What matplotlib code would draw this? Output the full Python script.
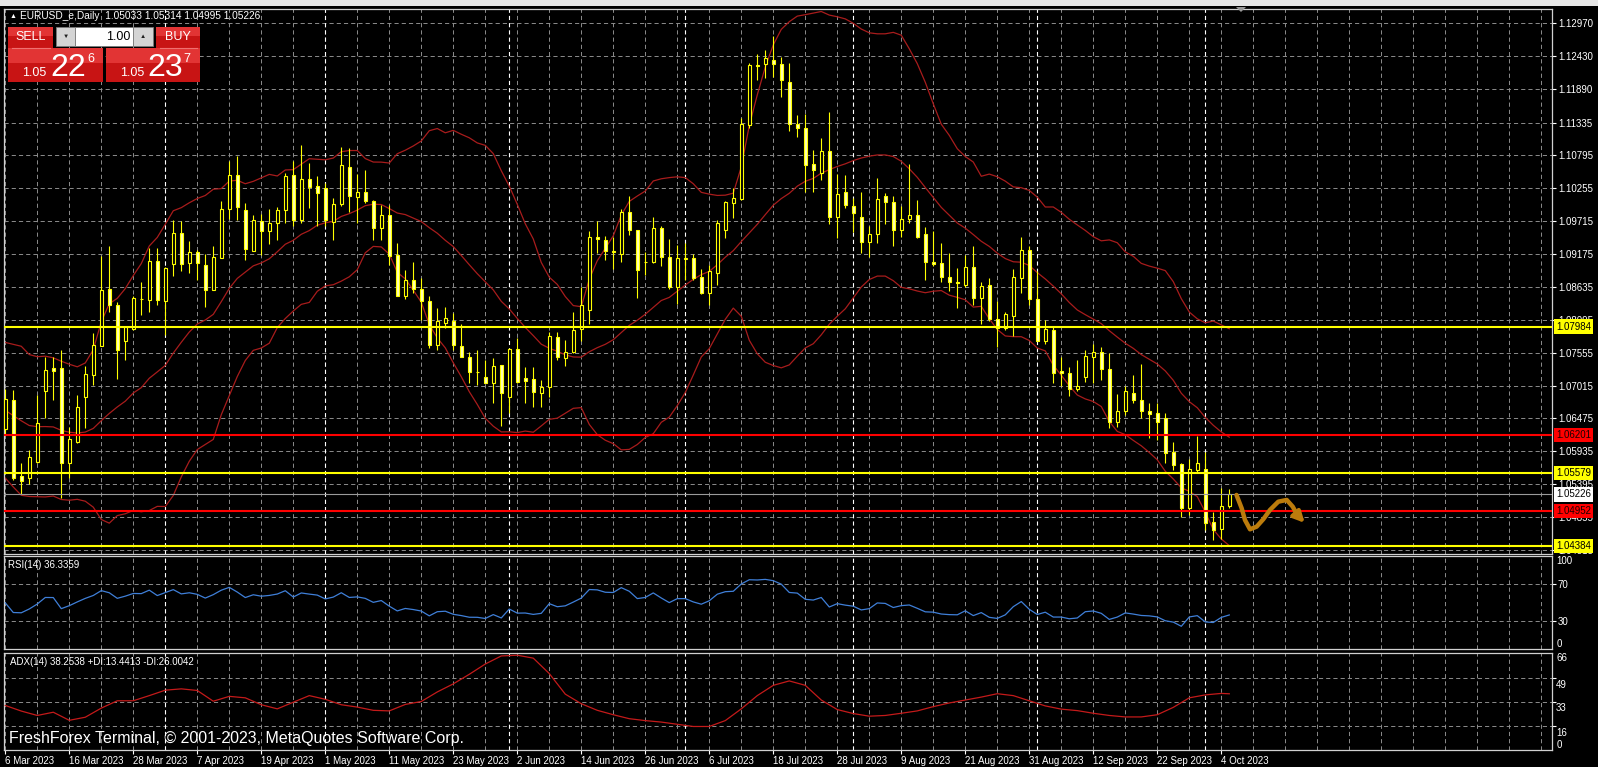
import numpy as np
import matplotlib
matplotlib.use("Agg")
import matplotlib.pyplot as plt
from matplotlib.patches import Rectangle, Polygon

plt.rcParams['font.family'] = ['Liberation Sans', 'DejaVu Sans']
plt.rcParams['lines.scale_dashes'] = False

# ---- data (EURUSD_e daily, 6 Mar 2023 .. 5 Oct 2023) ----
open_p = [1.0630, 1.0678, 1.0553, 1.0550, 1.0576, 1.0692, 1.0731, 1.0731, 1.0575, 1.0609,
          1.0682, 1.0719, 1.0767, 1.0860, 1.0834, 1.0774, 1.0795, 1.0844, 1.0842, 1.0906,
          1.0840, 1.0901, 1.0952, 1.0903, 1.0921, 1.0900, 1.0859, 1.0911, 1.0991, 1.1048,
          1.0990, 1.0923, 1.0972, 1.0956, 1.0968, 1.0990, 1.1048, 1.0973, 1.1040, 1.1029,
          1.1026, 1.0970, 1.0999, 1.1060, 1.1011, 1.1020, 1.1005, 1.0960, 1.0982, 1.0916,
          1.0849, 1.0875, 1.0860, 1.0841, 1.0768, 1.0804, 1.0808, 1.0767, 1.0749, 1.0724,
          1.0715, 1.0706, 1.0735, 1.0683, 1.0761, 1.0714, 1.0713, 1.0690, 1.0699, 1.0781,
          1.0746, 1.0757, 1.0794, 1.0825, 1.0945, 1.0940, 1.0922, 1.0917, 1.0986, 1.0957,
          1.0905, 1.0905, 1.0961, 1.0912, 1.0864, 1.0909, 1.0911, 1.0879, 1.0854, 1.0886,
          1.0957, 1.1001, 1.1008, 1.1130, 1.1228, 1.1230, 1.1237, 1.1230, 1.1200, 1.1131,
          1.1124, 1.1066, 1.1050, 1.1087, 1.0978, 1.1020, 1.0997, 1.0979, 1.0938, 1.0950,
          1.1012, 1.1003, 1.0957, 1.0975, 1.0981, 1.0950, 1.0904, 1.0903, 1.0879, 1.0871,
          1.0866, 1.0896, 1.0845, 1.0867, 1.0810, 1.0796, 1.0815, 1.0878, 1.0924, 1.0843,
          1.0775, 1.0793, 1.0726, 1.0722, 1.0696, 1.0715, 1.0749, 1.0756, 1.0728, 1.0642,
          1.0660, 1.0690, 1.0678, 1.0659, 1.0657, 1.0648, 1.0593, 1.0572, 1.0501, 1.0563,
          1.0564, 1.0478, 1.0465, 1.05033]
high_p = [1.0695, 1.0694, 1.0574, 1.0596, 1.0686, 1.0749, 1.0749, 1.0760, 1.0634, 1.0686,
          1.0733, 1.0788, 1.0914, 1.0931, 1.0838, 1.0799, 1.0848, 1.0871, 1.0927, 1.0927,
          1.0896, 1.0974, 1.0971, 1.0939, 1.0924, 1.0918, 1.0930, 1.1004, 1.1070, 1.1078,
          1.1001, 1.0982, 1.0983, 1.0991, 1.0995, 1.1050, 1.1070, 1.1097, 1.1067, 1.1046,
          1.1034, 1.1009, 1.1094, 1.1092, 1.1049, 1.1056, 1.1006, 1.0998, 1.0998, 1.0935,
          1.0892, 1.0905, 1.0878, 1.0849, 1.0829, 1.0831, 1.0820, 1.0803, 1.0757, 1.0760,
          1.0743, 1.0746, 1.0735, 1.0763, 1.0779, 1.0732, 1.0732, 1.0711, 1.0790, 1.0790,
          1.0776, 1.0823, 1.0864, 1.0955, 1.0971, 1.0947, 1.0945, 1.0991, 1.1012, 1.0957,
          1.0920, 1.0978, 1.0964, 1.0942, 1.0933, 1.0936, 1.0918, 1.0893, 1.0900, 1.0974,
          1.1004, 1.1026, 1.1141, 1.1231, 1.1246, 1.1252, 1.1276, 1.1241, 1.1231, 1.1146,
          1.1148, 1.1089, 1.1108, 1.1150, 1.1049, 1.1048, 1.1009, 1.1020, 1.0964, 1.1042,
          1.1018, 1.1012, 1.0996, 1.1066, 1.1007, 1.0962, 1.0955, 1.0935, 1.0919, 1.0894,
          1.0916, 1.0931, 1.0871, 1.0878, 1.0841, 1.0823, 1.0893, 1.0946, 1.0931, 1.0889,
          1.0809, 1.0798, 1.0749, 1.0732, 1.0744, 1.0760, 1.0770, 1.0765, 1.0755, 1.0688,
          1.0700, 1.0719, 1.0737, 1.0673, 1.0672, 1.0656, 1.0609, 1.0575, 1.0580, 1.0618,
          1.0593, 1.0493, 1.0533, 1.05314]
low_p = [1.0620, 1.0546, 1.0524, 1.0539, 1.0574, 1.0648, 1.0678, 1.0516, 1.0549, 1.0607,
         1.0631, 1.0702, 1.0766, 1.0823, 1.0713, 1.0743, 1.0793, 1.0818, 1.0823, 1.0834,
         1.0785, 1.0882, 1.0890, 1.0886, 1.0875, 1.0831, 1.0859, 1.0911, 1.0975, 1.0974,
         1.0908, 1.0922, 1.0916, 1.0934, 1.0940, 1.0968, 1.0964, 1.0968, 1.0993, 1.0963,
         1.0963, 1.0941, 1.0997, 1.0986, 1.0968, 1.1001, 1.0941, 1.0941, 1.0900, 1.0848,
         1.0844, 1.0853, 1.0809, 1.0763, 1.0760, 1.0796, 1.0760, 1.0748, 1.0705, 1.0703,
         1.0705, 1.0672, 1.0635, 1.0657, 1.0705, 1.0672, 1.0667, 1.0667, 1.0683, 1.0744,
         1.0733, 1.0755, 1.0774, 1.0803, 1.0919, 1.0908, 1.0893, 1.0905, 1.0949, 1.0845,
         1.0883, 1.0902, 1.0897, 1.0860, 1.0836, 1.0875, 1.0875, 1.0852, 1.0834, 1.0867,
         1.0944, 1.0976, 1.1007, 1.1124, 1.1204, 1.1207, 1.1209, 1.1175, 1.1119, 1.1110,
         1.1020, 1.1020, 1.1039, 1.0967, 1.0944, 1.0993, 1.0953, 1.0919, 1.0913, 1.0936,
         1.0967, 1.0930, 1.0946, 1.0968, 1.0944, 1.0875, 1.0897, 1.0871, 1.0856, 1.0829,
         1.0864, 1.0834, 1.0803, 1.0807, 1.0765, 1.0793, 1.0782, 1.0853, 1.0834, 1.0774,
         1.0770, 1.0705, 1.0700, 1.0684, 1.0693, 1.0708, 1.0705, 1.0711, 1.0631, 1.0634,
         1.0653, 1.0673, 1.0648, 1.0615, 1.0612, 1.0575, 1.0563, 1.0486, 1.0489, 1.0557,
         1.0464, 1.0448, 1.0449, 1.04995]
close_p = [1.0680, 1.0549, 1.0545, 1.0584, 1.0640, 1.0727, 1.0726, 1.0574, 1.0613, 1.0666,
           1.0720, 1.0768, 1.0859, 1.0833, 1.0760, 1.0797, 1.0845, 1.0843, 1.0906, 1.0842,
           1.0894, 1.0952, 1.0901, 1.0921, 1.0903, 1.0859, 1.0912, 1.0991, 1.1048, 1.0995,
           1.0926, 1.0974, 1.0956, 1.0968, 1.0990, 1.1045, 1.0974, 1.1041, 1.1028, 1.1017,
           1.0974, 1.0999, 1.1064, 1.1012, 1.1020, 1.1004, 1.0960, 1.0981, 1.0915, 1.0849,
           1.0875, 1.0860, 1.0840, 1.0768, 1.0807, 1.0812, 1.0768, 1.0749, 1.0724, 1.0723,
           1.0706, 1.0734, 1.0689, 1.0761, 1.0708, 1.0709, 1.0691, 1.0699, 1.0782, 1.0749,
           1.0757, 1.0792, 1.0833, 1.0945, 1.0942, 1.0922, 1.0920, 1.0986, 1.0957, 1.0891,
           1.0904, 1.0961, 1.0913, 1.0864, 1.0911, 1.0911, 1.0878, 1.0854, 1.0889, 1.0968,
           1.1003, 1.1009, 1.1131, 1.1228, 1.1226, 1.1240, 1.1230, 1.1203, 1.1131, 1.1125,
           1.1064, 1.1056, 1.1086, 1.0978, 1.1016, 1.0998, 1.0985, 1.0938, 1.0950, 1.1008,
           1.1003, 1.0957, 1.0975, 1.0981, 1.0946, 1.0905, 1.0901, 1.0879, 1.0872, 1.0870,
           1.0896, 1.0845, 1.0865, 1.0810, 1.0796, 1.0819, 1.0879, 1.0924, 1.0843, 1.0774,
           1.0794, 1.0722, 1.0722, 1.0695, 1.0701, 1.0750, 1.0756, 1.0728, 1.0642, 1.0660,
           1.0693, 1.0678, 1.0660, 1.0655, 1.0642, 1.0591, 1.0571, 1.0500, 1.0565, 1.0575,
           1.0475, 1.0464, 1.0503, 1.05226]
# closes of the 20 sessions before the first visible bar (band / RSI warm-up)
warmup_close = [1.0727, 1.0727, 1.0713, 1.0740, 1.0678, 1.0723, 1.0738, 1.0687, 1.0674, 1.0694,
                1.0687, 1.0648, 1.0605, 1.0595, 1.0547, 1.0607, 1.0576, 1.0668, 1.0597, 1.0633]

# ADX(14) main line, one value every second bar + last bar
adx_bar = list(range(0, 153, 2)) + [153]
adx_val = [30.3, 26.5, 23.5, 25.7, 20.2, 22.3, 28.5, 33.5, 33.5, 37.0,
           40.7, 41.6, 40.5, 33.2, 36.5, 35.5, 30.8, 28.0, 32.5, 37.0,
           34.5, 30.8, 29.2, 27.0, 26.6, 31.0, 33.0, 39.5, 45.0, 51.5,
           58.5, 64.0, 64.5, 62.5, 52.0, 38.0, 31.5, 27.0, 24.0, 21.3,
           20.0, 19.0, 17.5, 16.0, 16.0, 20.0, 28.0, 37.0, 44.0, 47.0,
           44.0, 34.0, 27.5, 24.8, 23.0, 23.5, 25.0, 26.6, 29.5, 32.0,
           34.0, 36.0, 38.3, 37.0, 33.5, 30.0, 27.8, 26.8, 25.0, 23.5,
           22.5, 22.5, 24.0, 29.0, 35.5, 37.5, 38.5, 38.25]

price_ticks = [1.12970, 1.12430, 1.11890, 1.11335, 1.10795, 1.10255, 1.09715, 1.09175,
               1.08635, 1.08095, 1.07555, 1.07015, 1.06475, 1.05935, 1.05395, 1.04855, 1.04315]
yellow_levels = [1.07984, 1.05579, 1.04384]
red_levels = [1.06201, 1.04952]
bid_price = 1.05226
date_bars = list(range(0, 153, 8))
date_labels = ['6 Mar 2023', '16 Mar 2023', '28 Mar 2023', '7 Apr 2023', '19 Apr 2023',
               '1 May 2023', '11 May 2023', '23 May 2023', '2 Jun 2023', '14 Jun 2023',
               '26 Jun 2023', '6 Jul 2023', '18 Jul 2023', '28 Jul 2023', '9 Aug 2023',
               '21 Aug 2023', '31 Aug 2023', '12 Sep 2023', '22 Sep 2023', '4 Oct 2023']
month_start_bars = [20, 40, 63, 85, 106, 129, 150]
# hand drawn forecast squiggle (bar, price)
squiggle_x = [153.9, 154.55, 154.96, 155.59, 156.42, 157.25, 158.09, 159.13, 160.18, 160.93, 161.5]
squiggle_y = [1.05217, 1.04998, 1.04806, 1.04653, 1.04696, 1.04818, 1.04971, 1.05107, 1.05135, 1.05025, 1.04889]
squiggle_tip = (162.67, 1.04724)

YEL = '#FFFF00'
BEAR_FILL = '#FFFFB8'
BAND = '#A81C1C'
GRID = '#8C8C8C'
DASH = (0, (3.0, 2.2))

W, H = 1598, 767
fig = plt.figure(figsize=(W / 100, H / 100), dpi=100, facecolor='black')


def px_axes(x0, y0, x1, y1):
    a = fig.add_axes([x0 / W, 1 - y1 / H, (x1 - x0) / W, (y1 - y0) / H])
    a.set_facecolor('black')
    for s in a.spines.values():
        s.set_color('#D0D0D0')
        s.set_linewidth(0.9)
    a.set_xlim(-0.16, 193.34)
    return a


ax = px_axes(4, 9, 1552, 554)
ax_rsi = px_axes(4, 556, 1552, 649)
ax_adx = px_axes(4, 653, 1552, 750)

o = np.array(open_p)
h = np.array(high_p)
l = np.array(low_p)
c = np.array(close_p)
x = np.arange(len(c))

# grid + period separators in every window
grid_x = np.arange(0, 194, 4)
for a in (ax, ax_rsi, ax_adx):
    a.vlines(grid_x, 0, 1, transform=a.get_xaxis_transform(), colors=GRID,
             linestyles=DASH, linewidth=0.7, zorder=1)
    a.vlines(month_start_bars, 0, 1, transform=a.get_xaxis_transform(), colors='white',
             linestyles=DASH, linewidth=0.8, zorder=1.5)

# ---- main window ----
ax.set_ylim(1.04247, 1.13200)
ax.hlines(price_ticks, 0, 1, transform=ax.get_yaxis_transform(), colors=GRID,
          linestyles=DASH, linewidth=0.7, zorder=1)

# Bollinger bands (20, 2)
allc = np.array(warmup_close + close_p)
nw = len(warmup_close)
n = 20
mid = np.array([allc[i - n + 1:i + 1].mean() for i in range(nw, len(allc))])
sd = np.array([allc[i - n + 1:i + 1].std() for i in range(nw, len(allc))])
for band in (mid, mid + 2 * sd, mid - 2 * sd):
    ax.plot(x, band, color=BAND, linewidth=0.9, zorder=2)

# candles
up = c >= o
lo = np.minimum(o, c)
bh = np.abs(c - o)
ax.vlines(x, l, h, colors=YEL, linewidth=0.8, zorder=3)
ax.bar(x[up], bh[up], bottom=lo[up], width=0.42, facecolor='black', edgecolor=YEL,
       linewidth=0.8, zorder=4)
ax.bar(x[~up], bh[~up], bottom=lo[~up], width=0.42, facecolor=BEAR_FILL, edgecolor=YEL,
       linewidth=0.8, zorder=4)

# levels
ax.axhline(bid_price, color='#9A9A9A', linewidth=0.8, zorder=5)
for lv in yellow_levels:
    ax.axhline(lv, color=YEL, linewidth=1.5, zorder=6)
for lv in red_levels:
    ax.axhline(lv, color='#FF0000', linewidth=1.5, zorder=6)

# hand drawn arrow
ax.plot(squiggle_x, squiggle_y, color='#BC7C0C', linewidth=3.2, solid_capstyle='round',
        solid_joinstyle='round', zorder=7)
ax.annotate('', xy=squiggle_tip, xytext=(squiggle_x[-1], squiggle_y[-1]),
            arrowprops=dict(arrowstyle='-|>', color='#BC7C0C', lw=3, mutation_scale=16),
            zorder=7)

ax.yaxis.tick_right()
ax.set_yticks(price_ticks)
ax.set_yticklabels([f'{v:.5f}' for v in price_ticks])
ax.set_xticks([])
ax.tick_params(axis='y', colors='white', labelsize=7, length=2.9, width=0.8, pad=1.4)

label_boxes = [(v, YEL, 'black') for v in yellow_levels] + \
              [(v, '#FF0000', '#1A0000') for v in red_levels] + [(bid_price, 'white', 'black')]
for v, bg, fg in label_boxes:
    ax.text(1.0027, v, f'{v:.5f}', transform=ax.get_yaxis_transform(), ha='left', va='center',
            fontsize=7, color=fg, clip_on=False, zorder=10,
            bbox=dict(boxstyle='square,pad=0.22', fc=bg, ec='none'))

# ---- RSI ----
d = np.diff(allc)
gain = np.clip(d, 0, None)
loss = np.clip(-d, 0, None)
ag, al = gain[:14].mean(), loss[:14].mean()
rsi_all = np.full(len(allc), np.nan)
for i in range(14, len(d)):
    ag = (ag * 13 + gain[i]) / 14
    al = (al * 13 + loss[i]) / 14
    rsi_all[i + 1] = 100 - 100 / (1 + ag / al)
rsi = rsi_all[nw:]
ax_rsi.set_ylim(0, 100)
ax_rsi.hlines([70, 30], 0, 1, transform=ax_rsi.get_yaxis_transform(), colors=GRID,
              linestyles=DASH, linewidth=0.7, zorder=1)
ax_rsi.plot(x, rsi, color='#3F7FD8', linewidth=0.9, zorder=3)
ax_rsi.yaxis.tick_right()
ax_rsi.set_yticks([70, 30])
ax_rsi.set_yticklabels(['70', '30'])
ax_rsi.set_xticks([])
ax_rsi.tick_params(axis='y', colors='white', labelsize=7, length=2.9, width=0.8, pad=1.4)
ax_rsi.text(1.0027, 100, '100', transform=ax_rsi.get_yaxis_transform(), ha='left', va='top',
            fontsize=7, color='white', clip_on=False)
ax_rsi.text(1.0027, 0, '0', transform=ax_rsi.get_yaxis_transform(), ha='left', va='bottom',
            fontsize=7, color='white', clip_on=False)

# ---- ADX ----
ax_adx.set_ylim(0, 66)
ax_adx.hlines([49, 33, 16], 0, 1, transform=ax_adx.get_yaxis_transform(), colors=GRID,
              linestyles=DASH, linewidth=0.7, zorder=1)
ax_adx.plot(adx_bar, adx_val, color='#C41A1A', linewidth=0.9, zorder=3)
ax_adx.yaxis.tick_right()
ax_adx.set_yticks([49, 33, 16])
ax_adx.set_yticklabels([])
ax_adx.tick_params(axis='y', colors='white', length=2.9, width=0.8)
for v, va in [(66, 'top'), (49, 'top'), (33, 'top'), (16, 'top'), (0, 'bottom')]:
    ax_adx.text(1.0027, v - (1.2 if v not in (66, 0) else 0), str(v),
                transform=ax_adx.get_yaxis_transform(), ha='left', va=va,
                fontsize=7, color='white', clip_on=False)
ax_adx.set_xticks(date_bars)
ax_adx.set_xticklabels(date_labels)
ax_adx.tick_params(axis='x', colors='white', labelsize=7, length=2.9, width=0.8, pad=1.5)
for t in ax_adx.get_xticklabels():
    t.set_ha('left')

# ---- overlay: terminal widgets and texts (pixel coordinates) ----
ov = fig.add_axes([0, 0, 1, 1], zorder=20)
ov.set_xlim(0, W)
ov.set_ylim(H, 0)
ov.axis('off')
ov.add_patch(Rectangle((0, 0), W, 6, color='#E6E6E6', lw=0))
ov.add_patch(Polygon([(1236, 7), (1246, 7), (1241, 12)], closed=True, color='#9A9A9A', lw=0))

ov.text(10, 16, '\u25b2', fontsize=5, color='white', va='center', ha='left')
ov.text(20, 16, 'EURUSD_e,Daily  1.05033 1.05314 1.04995 1.05226', fontsize=7.3,
        color='white', va='center', ha='left')


def red_block(x0, y0, x1, y1):
    ov.add_patch(Rectangle((x0, y0), x1 - x0, y1 - y0, color='#C81414', lw=0))
    ov.add_patch(Rectangle((x0, y0), x1 - x0, (y1 - y0) * 0.45, color='#E23434', lw=0))


red_block(8, 27, 53, 48)
red_block(156, 27, 200, 48)
red_block(8, 48, 103, 82)
red_block(106, 48, 200, 82)
ov.plot([12, 50], [47.5, 47.5], color='#F07070', lw=0.8)
ov.plot([160, 197], [47.5, 47.5], color='#F07070', lw=0.8)
ov.add_patch(Rectangle((56, 27), 19, 19, fc='#D4D4D4', ec='#7A7A7A', lw=0.6))
ov.add_patch(Rectangle((75, 27), 58, 19, fc='white', ec='#7A7A7A', lw=0.6))
ov.add_patch(Rectangle((133, 27), 20, 19, fc='#D4D4D4', ec='#7A7A7A', lw=0.6))
ov.text(65.5, 36.5, '\u25bc', fontsize=4.5, color='#202020', ha='center', va='center')
ov.text(143, 36.5, '\u25b2', fontsize=4.5, color='#202020', ha='center', va='center')
ov.text(130, 36.5, '1.00', fontsize=9, color='black', ha='right', va='center')
ov.text(30.5, 37, 'SELL', fontsize=9, color='white', ha='center', va='center')
ov.text(178, 37, 'BUY', fontsize=9, color='white', ha='center', va='center')
ov.text(22, 76, '1.05', fontsize=9, color='white', ha='left', va='baseline')
ov.text(50, 76, '22', fontsize=23, color='white', ha='left', va='baseline')
ov.text(87, 61.5, '6', fontsize=9, color='white', ha='left', va='baseline')
ov.text(120, 76, '1.05', fontsize=9, color='white', ha='left', va='baseline')
ov.text(147, 76, '23', fontsize=23, color='white', ha='left', va='baseline')
ov.text(183, 61.5, '7', fontsize=9, color='white', ha='left', va='baseline')

ov.text(8, 565, 'RSI(14) 36.3359', fontsize=7, color='white', ha='left', va='center')
ov.text(10, 662, 'ADX(14) 38.2538 +DI:13.4413 -DI:26.0042', fontsize=7, color='white',
        ha='left', va='center')
ov.text(9, 742.5, 'FreshForex Terminal, \u00a9 2001-2023, MetaQuotes Software Corp.',
        fontsize=11.5, color='white', ha='left', va='baseline')

fig.savefig('out.png', dpi=100, facecolor='black')
